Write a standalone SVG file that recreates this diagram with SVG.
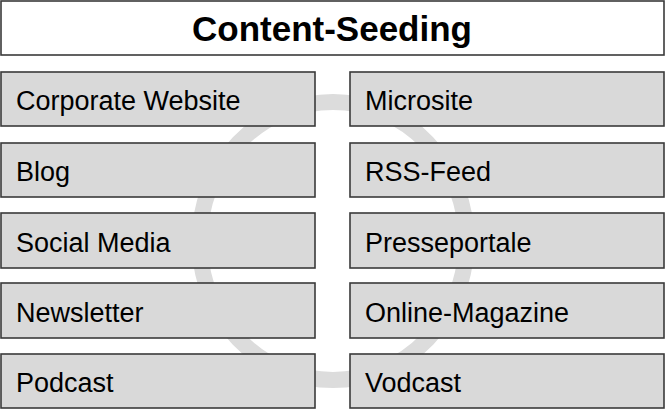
<svg xmlns="http://www.w3.org/2000/svg" width="666" height="409" viewBox="0 0 666 409">
<style>
.box{fill:#d9d9d9;stroke:#3a3a3a;stroke-width:1.6}
.lbl{font-family:"Liberation Sans",Arial,sans-serif;font-size:27px;fill:#000}
.title{font-family:"Liberation Sans",Arial,sans-serif;font-size:35px;font-weight:bold;fill:#000}
.ring{fill:none;stroke:#dcdcdc;stroke-width:16}
</style>
<rect width="666" height="409" fill="#ffffff"/>
<g id="connectors">
<ellipse class="ring" cx="333" cy="241" rx="133.5" ry="139"/>
</g>
<g id="title">
<rect x="1" y="1" width="663" height="54" fill="#ffffff" stroke="#3a3a3a" stroke-width="1.6"/>
<text class="title" x="332" y="41" text-anchor="middle">Content-Seeding</text>
</g>
<g id="corporate-website"><rect class="box" x="1" y="72" width="314" height="54"/><text class="lbl" x="16" y="110">Corporate Website</text></g>
<g id="blog"><rect class="box" x="1" y="143" width="314" height="54"/><text class="lbl" x="16" y="181">Blog</text></g>
<g id="social-media"><rect class="box" x="1" y="213" width="314" height="55"/><text class="lbl" x="16" y="252">Social Media</text></g>
<g id="newsletter"><rect class="box" x="1" y="283" width="314" height="55"/><text class="lbl" x="16" y="322">Newsletter</text></g>
<g id="podcast"><rect class="box" x="1" y="354" width="314" height="54"/><text class="lbl" x="16" y="392">Podcast</text></g>
<g id="microsite"><rect class="box" x="350" y="72" width="314" height="54"/><text class="lbl" x="365" y="110">Microsite</text></g>
<g id="rss-feed"><rect class="box" x="350" y="143" width="314" height="54"/><text class="lbl" x="365" y="181">RSS-Feed</text></g>
<g id="presseportale"><rect class="box" x="350" y="213" width="314" height="55"/><text class="lbl" x="365" y="252">Presseportale</text></g>
<g id="online-magazine"><rect class="box" x="350" y="283" width="314" height="55"/><text class="lbl" x="365" y="322">Online-Magazine</text></g>
<g id="vodcast"><rect class="box" x="350" y="354" width="314" height="54"/><text class="lbl" x="365" y="392">Vodcast</text></g>
</svg>
